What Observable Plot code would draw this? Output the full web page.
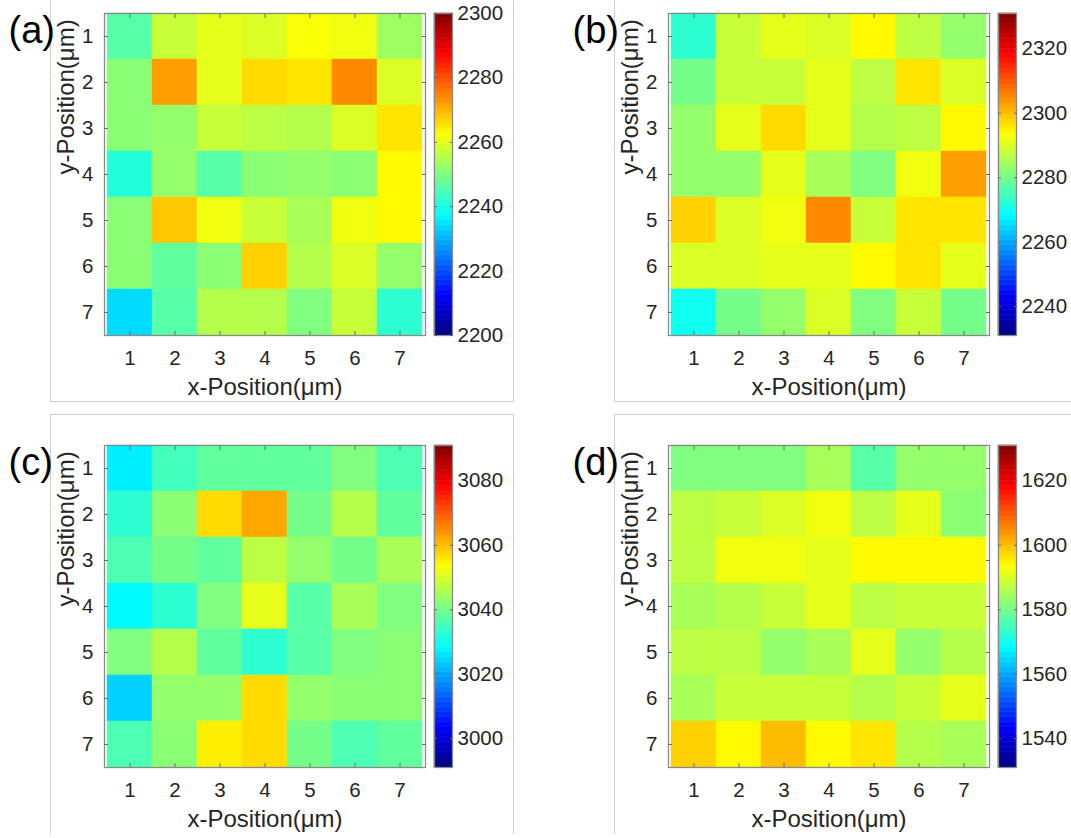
<!DOCTYPE html>
<html>
<head>
<meta charset="utf-8">
<script src="https://cdn.jsdelivr.net/npm/d3@7"></script>
<script src="https://cdn.jsdelivr.net/npm/@observablehq/plot@0.6"></script>
<style>
  body { margin: 0; background: #fff; }
  #fig { position: relative; width: 1071px; height: 838px; overflow: hidden; background: #fff;
         font-family: "Liberation Sans", Arial, Helvetica, sans-serif; }
  .frame { position: absolute; border: 1.5px solid #d0d0d0; box-sizing: border-box; }
  .open-bottom { border-bottom: none; }
  #fig svg { position: absolute; overflow: visible; }
</style>
</head>
<body>
<div id="fig"></div>
<script>
// Measurement grid positions (µm)
const xPositions = [1, 2, 3, 4, 5, 6, 7];
const yPositions = [1, 2, 3, 4, 5, 6, 7];

// Map (a): one row per y position, columns follow x positions
const mapA = [
  [2246, 2257, 2260, 2259, 2262, 2261, 2253],
  [2251, 2272, 2260, 2266, 2265, 2274, 2259],
  [2251, 2252, 2257, 2256, 2255, 2259, 2265],
  [2241, 2252, 2246, 2251, 2252, 2251, 2263],
  [2251, 2268, 2261, 2257, 2254, 2261, 2263],
  [2251, 2247, 2251, 2267, 2255, 2259, 2252],
  [2234, 2246, 2255, 2255, 2250, 2257, 2242]
];
// Map (b)
const mapB = [
  [2273, 2288, 2291, 2290, 2294, 2287, 2283],
  [2280, 2288, 2288, 2291, 2287, 2296, 2290],
  [2283, 2291, 2297, 2291, 2286, 2287, 2294],
  [2283, 2283, 2291, 2285, 2281, 2292, 2303],
  [2298, 2290, 2292, 2305, 2288, 2296, 2296],
  [2290, 2290, 2291, 2291, 2294, 2296, 2291],
  [2270, 2280, 2283, 2290, 2281, 2288, 2280]
];
// Map (c)
const mapC = [
  [3027, 3035, 3038, 3038, 3038, 3041, 3036],
  [3033, 3042, 3057, 3062, 3040, 3046, 3038],
  [3036, 3040, 3038, 3047, 3043, 3040, 3045],
  [3028, 3033, 3041, 3051, 3037, 3045, 3041],
  [3041, 3046, 3038, 3033, 3037, 3041, 3042],
  [3024, 3043, 3043, 3057, 3043, 3042, 3042],
  [3036, 3042, 3055, 3057, 3040, 3036, 3038]
];
// Map (d)
const mapD = [
  [1581, 1581, 1581, 1585, 1577, 1583, 1583],
  [1587, 1588, 1590, 1592, 1587, 1591, 1582],
  [1587, 1592, 1592, 1591, 1594, 1594, 1594],
  [1585, 1586, 1588, 1591, 1587, 1588, 1588],
  [1587, 1587, 1583, 1585, 1591, 1583, 1586],
  [1585, 1588, 1588, 1588, 1586, 1588, 1591],
  [1598, 1594, 1600, 1594, 1596, 1586, 1585]
];

// Colour limits and colourbar tick labels of each map
const limitsA = [2200, 2300];
const limitsB = [2231, 2331];
const limitsC = [2991, 3091];
const limitsD = [1531, 1631];
const ticksA = [2200, 2220, 2240, 2260, 2280, 2300];
const ticksB = [2240, 2260, 2280, 2300, 2320];
const ticksC = [3000, 3020, 3040, 3060, 3080];
const ticksD = [1540, 1560, 1580, 1600, 1620];

const panelLetters = ["(a)", "(b)", "(c)", "(d)"];
const xTitle = "x-Position(μm)";
const yTitle = "y-Position(μm)";

// MATLAB-style jet colormap
function jet(t) {
  const c = v => Math.max(0, Math.min(1, v));
  const r = c(1.5 - Math.abs(4 * t - 3));
  const g = c(1.5 - Math.abs(4 * t - 2));
  const b = c(1.5 - Math.abs(4 * t - 1));
  return `rgb(${Math.round(r * 255)},${Math.round(g * 255)},${Math.round(b * 255)})`;
}

const fontFamily = "'Liberation Sans', Arial, Helvetica, sans-serif";
const ink = "#262626";
const boxStroke = "#8a8a8a";
const tickStroke = "#6a6a6a";
const tickFont = 20.5;
const titleFont = 24;

// Layout of the four figure windows (left, top offsets)
const layout = [
  {dx: 0, dy: 0, values: mapA, limits: limitsA, ticks: ticksA},
  {dx: 564, dy: 0, values: mapB, limits: limitsB, ticks: ticksB},
  {dx: 0, dy: 432, values: mapC, limits: limitsC, ticks: ticksC},
  {dx: 564, dy: 432, values: mapD, limits: limitsD, ticks: ticksD}
];

const fig = document.getElementById("fig");

function place(node, left, top) {
  node.style.left = left + "px";
  node.style.top = top + "px";
  fig.appendChild(node);
}

function addFrame(left, top, width, height, openBottom) {
  const d = document.createElement("div");
  d.className = "frame" + (openBottom ? " open-bottom" : "");
  d.style.width = width + "px";
  d.style.height = height + "px";
  place(d, left, top);
}

// light grey figure-window borders
addFrame(50, -20, 464, 422, false);
addFrame(614, -20, 500, 422, false);
addFrame(50, 414, 464, 420, true);
addFrame(614, 414, 500, 420, true);

layout.forEach((p, k) => {
  const colorScale = {type: "linear", domain: p.limits, interpolate: jet, clamp: true};
  const cells = yPositions.flatMap((y, i) =>
    xPositions.map((x, j) => ({x, y, v: p.values[i][j]})));

  const heat = Plot.plot({
    width: 435, height: 405,
    marginLeft: 104, marginTop: 13, marginRight: 10, marginBottom: 70,
    x: {type: "band", domain: xPositions, padding: 0, label: null},
    y: {type: "band", domain: yPositions, padding: 0, label: null},
    color: colorScale,
    style: {fontFamily, fontSize: tickFont + "px", color: ink, background: "transparent", overflow: "visible"},
    marks: [
      Plot.cell(cells, {x: "x", y: "y", fill: "v", stroke: "v", strokeWidth: 0.5, inset: 0}),
      Plot.frame({stroke: boxStroke, strokeWidth: 1.3}),
      Plot.axisX({anchor: "bottom", tickSize: 0, tickPadding: 15, fontSize: tickFont, label: null}),
      Plot.axisY({anchor: "left", tickSize: 0, tickPadding: 11, fontSize: tickFont, label: null}),
      Plot.axisX({anchor: "bottom", tickSize: -4, tickFormat: () => "", label: null, stroke: tickStroke}),
      Plot.axisX({anchor: "top", tickSize: -4, tickFormat: () => "", label: null, stroke: tickStroke}),
      Plot.axisY({anchor: "left", tickSize: -4, tickFormat: () => "", label: null, stroke: tickStroke}),
      Plot.axisY({anchor: "right", tickSize: -4, tickFormat: () => "", label: null, stroke: tickStroke}),
      Plot.text([xTitle], {frameAnchor: "bottom", dy: 52, fontSize: titleFont, lineAnchor: "middle", fill: ink}),
      Plot.text([yTitle], {frameAnchor: "left", dx: -38, rotate: -90, fontSize: titleFont, lineAnchor: "middle", fill: ink}),
      Plot.text([panelLetters[k]], {frameAnchor: "top-left", dx: -96, dy: 17.4, fontSize: 38,
        textAnchor: "start", lineAnchor: "middle", fill: "#000"})
    ]
  });
  place(heat, p.dx, p.dy);

  // colourbar: 64 jet levels spanning the colour limits
  const [lo, hi] = p.limits;
  const step = (hi - lo) / 64;
  const levels = d3.range(64).map(i => lo + i * step);
  const bar = Plot.plot({
    width: 88, height: 13 + 322 + 14,
    marginLeft: 0, marginRight: 70, marginTop: 13, marginBottom: 14,
    x: {domain: [0, 1], axis: null},
    y: {domain: p.limits, label: null},
    color: colorScale,
    style: {fontFamily, fontSize: tickFont + "px", color: ink, background: "transparent", overflow: "visible"},
    marks: [
      Plot.rect(levels, {y1: d => d, y2: d => d + step, fill: d => d + step / 2, stroke: d => d + step / 2, strokeWidth: 0.5}),
      Plot.frame({stroke: boxStroke, strokeWidth: 1.3}),
      Plot.axisY({anchor: "right", ticks: p.ticks, tickSize: 0, tickPadding: 5, tickFormat: d => String(d), fontSize: tickFont, label: null}),
      Plot.axisY({anchor: "right", ticks: p.ticks, tickSize: -3, tickFormat: () => "", label: null, stroke: tickStroke}),
      Plot.axisY({anchor: "left", ticks: p.ticks, tickSize: -3, tickFormat: () => "", label: null, stroke: tickStroke})
    ]
  });
  place(bar, p.dx + 434, p.dy);
});
</script>
</body>
</html>
